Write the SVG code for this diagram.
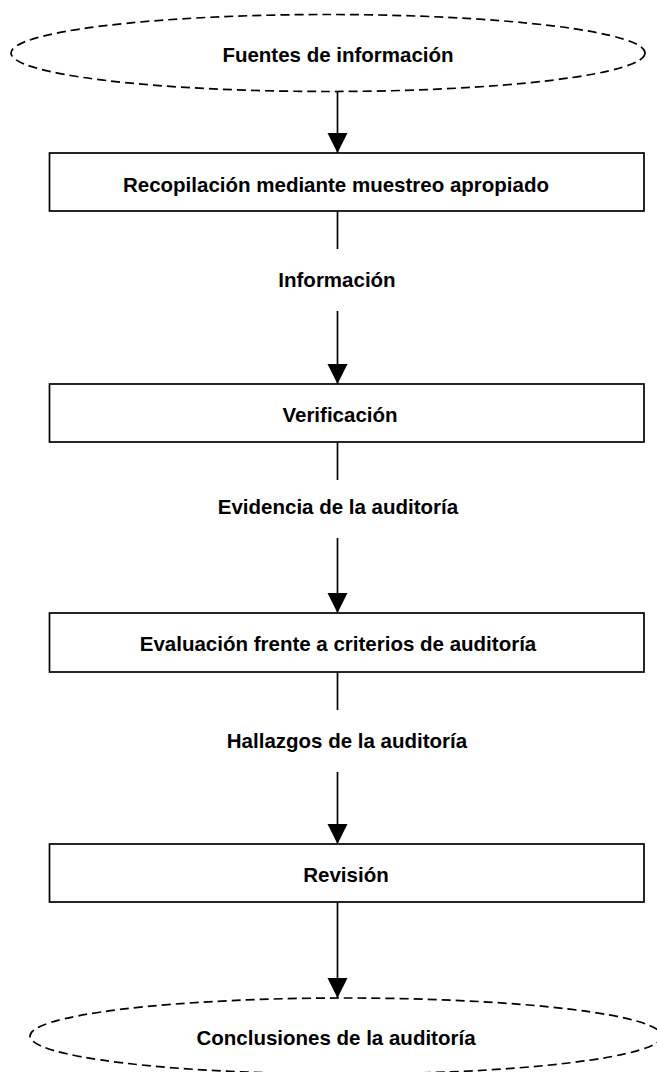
<svg xmlns="http://www.w3.org/2000/svg" width="657" height="1072" viewBox="0 0 657 1072">
<style>
.term{fill:#fff;stroke:#000;stroke-width:1.7;stroke-dasharray:9 5}
.box{fill:#fff;stroke:#000;stroke-width:1.7}
.lbl{font-family:"Liberation Sans",Arial,sans-serif;font-weight:bold;font-size:20.5px;fill:#000;text-anchor:middle;dominant-baseline:central}
.edge{stroke:#000;stroke-width:1.7;fill:none}
</style>
<defs>
<marker id="arr" markerUnits="userSpaceOnUse" markerWidth="22" markerHeight="22" viewBox="0 0 22 22" refX="20" refY="11" orient="auto">
<path d="M0,1 L20,11 L0,21 Z" fill="#000"/>
</marker>
</defs>
<rect width="657" height="1072" fill="#fff"/>
<g id="connectors">
<line class="edge" x1="337.5" y1="92" x2="337.5" y2="153" marker-end="url(#arr)"/>
<line class="edge" x1="337.5" y1="211" x2="337.5" y2="249"/>
<line class="edge" x1="337.5" y1="311" x2="337.5" y2="384" marker-end="url(#arr)"/>
<line class="edge" x1="337.5" y1="442" x2="337.5" y2="480"/>
<line class="edge" x1="337.5" y1="538" x2="337.5" y2="613" marker-end="url(#arr)"/>
<line class="edge" x1="337.5" y1="672" x2="337.5" y2="710"/>
<line class="edge" x1="337.5" y1="772" x2="337.5" y2="844" marker-end="url(#arr)"/>
<line class="edge" x1="337.5" y1="902" x2="337.5" y2="998" marker-end="url(#arr)"/>
<text class="lbl" x="337" y="279">Información</text>
<text class="lbl" x="338" y="506">Evidencia de la auditoría</text>
<text class="lbl" x="347" y="740">Hallazgos de la auditoría</text>
</g>
<g id="fuentes">
<ellipse class="term" cx="328" cy="53" rx="317" ry="38.5"/>
<text class="lbl" x="338" y="54">Fuentes de información</text>
</g>
<g id="recopilacion">
<rect class="box" x="49.5" y="153" width="594.5" height="58"/>
<text class="lbl" x="336" y="184">Recopilación mediante muestreo apropiado</text>
</g>
<g id="verificacion">
<rect class="box" x="49.5" y="384" width="594.5" height="58"/>
<text class="lbl" x="340" y="414">Verificación</text>
</g>
<g id="evaluacion">
<rect class="box" x="49.5" y="613" width="594.5" height="59"/>
<text class="lbl" x="338" y="643">Evaluación frente a criterios de auditoría</text>
</g>
<g id="revision">
<rect class="box" x="49.5" y="844" width="594.5" height="58"/>
<text class="lbl" x="346" y="874">Revisión</text>
</g>
<g id="conclusiones">
<ellipse class="term" cx="346" cy="1036" rx="316" ry="38"/>
<text class="lbl" x="336" y="1037">Conclusiones de la auditoría</text>
</g>
</svg>
